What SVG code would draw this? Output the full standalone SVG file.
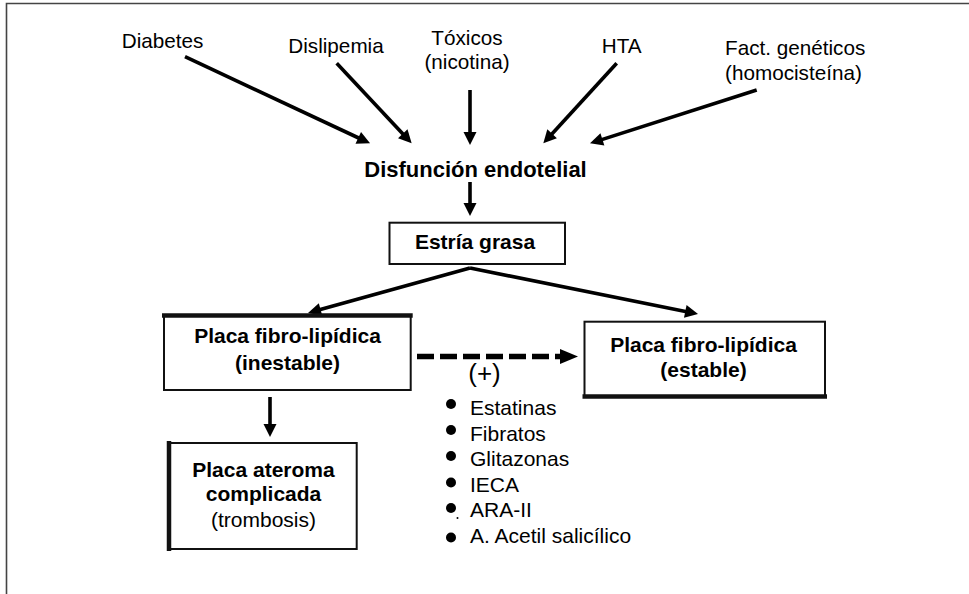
<svg xmlns="http://www.w3.org/2000/svg" width="969" height="594" viewBox="0 0 969 594">
<style>
text{font-family:"Liberation Sans",Arial,Helvetica,sans-serif;fill:#000}
.lab{font-size:20.7px}
.b{font-weight:bold;font-size:21px}
.li{font-size:21px}
.box{fill:#fff;stroke:#111;stroke-width:2}
.thk{stroke:#111;stroke-width:4.5;fill:none}
.arr{stroke:#000;stroke-width:3.6;fill:none;marker-end:url(#ah)}
.dash{stroke:#000;stroke-width:5.5;fill:none;stroke-dasharray:17 6;marker-end:url(#dh)}
.bul{fill:#000}
</style>
<defs>
<marker id="ah" markerUnits="userSpaceOnUse" markerWidth="14" markerHeight="14" refX="4" refY="6.5" orient="auto" overflow="visible">
<path d="M0,0 L13,6.5 L0,13 z" fill="#000"/>
</marker>
<marker id="dh" markerUnits="userSpaceOnUse" markerWidth="20" markerHeight="16" refX="2" refY="7.5" orient="auto" overflow="visible">
<path d="M0,0 L18,7.5 L0,15 z" fill="#000"/>
</marker>
</defs>
<rect width="969" height="594" fill="#fff"/>
<path d="M6.5,594 V3.5 H969" fill="none" stroke="#444" stroke-width="1.6"/>

<g id="connectors">
<path class="arr" d="M185,56.7 L361.9,139.5"/>
<path class="arr" d="M336.7,63.3 L405.5,136.7"/>
<path class="arr" d="M470,90 L470,136"/>
<path class="arr" d="M616.7,63.3 L549.4,136.7"/>
<path class="arr" d="M756.7,90 L598.6,140.6"/>
<path class="arr" d="M470,182 L470,207"/>
<path class="arr" d="M470,268 L316.7,310.6"/>
<path class="arr" d="M470,268 L689.2,312.2"/>
<path class="arr" d="M270,397 L270,428"/>
<path class="dash" d="M417,356.5 L562,356.5"/>
</g>

<g id="diabetes"><text class="lab" x="121.7" y="48.3">Diabetes</text></g>
<g id="dislipemia"><text class="lab" x="288.3" y="53.3">Dislipemia</text></g>
<g id="toxicos"><text class="lab" x="467" y="45" text-anchor="middle">Tóxicos</text><text class="lab" x="467" y="68.5" text-anchor="middle">(nicotina)</text></g>
<g id="hta"><text class="lab" x="601.7" y="53.3">HTA</text></g>
<g id="geneticos"><text class="lab" x="725" y="55">Fact. genéticos</text><text class="lab" x="725" y="79.5">(homocisteína)</text></g>

<g id="disfuncion"><text class="b" x="475.5" y="177" text-anchor="middle" style="font-size:22px">Disfunción endotelial</text></g>

<g id="estria">
<rect class="box" x="389.5" y="222.7" width="175.5" height="41.3"/>
<text class="b" x="475" y="249" text-anchor="middle">Estría grasa</text>
</g>

<g id="inestable">
<rect class="box" x="164" y="315" width="246.7" height="75"/>
<path class="thk" d="M162,315.5 H412.7"/>
<text class="b" x="287.5" y="343.3" text-anchor="middle">Placa fibro-lipídica</text>
<text class="b" x="287.5" y="369.5" text-anchor="middle">(inestable)</text>
</g>

<g id="estable">
<rect class="box" x="584.5" y="321.7" width="240.5" height="75"/>
<path class="thk" d="M582.5,396.5 H827"/>
<text class="b" x="703.5" y="351.7" text-anchor="middle">Placa fibro-lipídica</text>
<text class="b" x="703.5" y="376.7" text-anchor="middle">(estable)</text>
</g>

<g id="ateroma">
<rect class="box" x="168.3" y="443" width="188.4" height="106"/>
<path class="thk" d="M169,441 V551"/>
<text class="b" x="263.5" y="476.7" text-anchor="middle">Placa ateroma</text>
<text class="b" x="263.5" y="500.7" text-anchor="middle">complicada</text>
<text class="li" x="263.5" y="526.7" text-anchor="middle">(trombosis)</text>
</g>

<g id="plus"><text x="484.5" y="381.5" text-anchor="middle" style="font-size:26px">(+)</text></g>

<g id="tratamientos">
<circle class="bul" cx="451" cy="404" r="5"/>
<circle class="bul" cx="451" cy="430" r="5"/>
<circle class="bul" cx="451" cy="456" r="5"/>
<circle class="bul" cx="451" cy="482.5" r="5"/>
<circle class="bul" cx="451" cy="508" r="5"/>
<circle class="bul" cx="457.5" cy="518" r="1"/>
<circle class="bul" cx="451" cy="537.5" r="5"/>
<text class="li" x="470" y="415">Estatinas</text>
<text class="li" x="470" y="440.5">Fibratos</text>
<text class="li" x="470" y="466">Glitazonas</text>
<text class="li" x="470" y="491.5">IECA</text>
<text class="li" x="470" y="517">ARA-II</text>
<text class="li" x="470" y="542.7">A. Acetil salicílico</text>
</g>
</svg>
